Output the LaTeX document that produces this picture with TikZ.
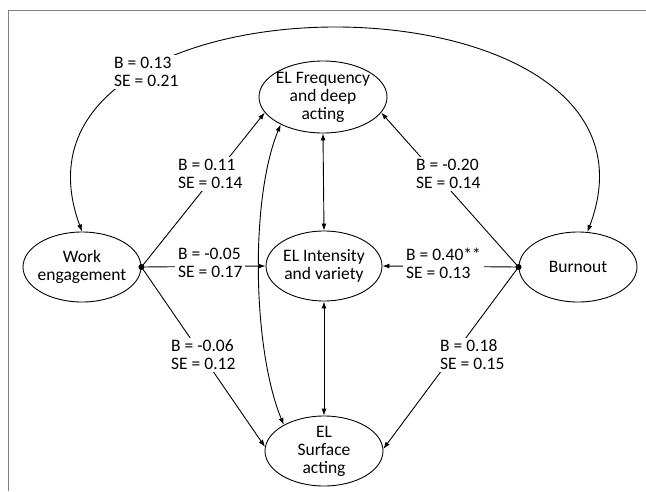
\documentclass[tikz,border=0pt]{standalone}
\usepackage{fontspec}
\setmainfont{Carlito}
\usetikzlibrary{shapes.geometric,arrows.meta}
\begin{document}
\begin{tikzpicture}[x=1pt,y=-1pt,
  txt/.style={font=\fontsize{17.5}{18}\selectfont},
  var/.style={ellipse, draw, line width=0.9pt, inner sep=0pt},
  path/.style={line width=0.9pt, -{Latex[length=7pt,width=5pt]}},
  both/.style={line width=0.9pt, {Latex[length=7pt,width=5pt]}-{Latex[length=7pt,width=5pt]}},
  coef/.style={txt, align=left, fill=white, inner xsep=3pt, inner ysep=2pt, anchor=west},
  frame/.style={draw=gray, line width=1.4pt}]
\useasboundingbox (0,0) rectangle (646,491);
\draw[frame] (8.5,491) -- (8.5,10.5) -- (646,10.5);

\node[var, minimum width=128pt, minimum height=72pt,
  label={[txt,align=center]center:EL Frequency\\and deep\\acting}] (EF) at (323,97) {};
\node[var, minimum width=118pt, minimum height=70pt,
  label={[txt,align=center]center:Work\\engagement}] (WE) at (82,267) {};
\node[var, minimum width=116pt, minimum height=70pt,
  label={[txt,align=center]center:EL Intensity\\and variety}] (EI) at (324,266) {};
\node[var, minimum width=118pt, minimum height=70pt,
  label={[txt,align=center]center:Burnout}] (BO) at (578,267) {};
\node[var, minimum width=118pt, minimum height=70pt,
  label={[txt,align=center]center:EL\\Surface\\acting}] (ES) at (324,451) {};

\draw[path] (WE.east) -- (EF.195);
\draw[path] (WE.east) -- (EI.west);
\draw[path] (WE.east) -- (ES.176);
\draw[path] (BO.west) -- (EF.345);
\draw[path] (BO.west) -- (EI.east);
\draw[path] (BO.west) -- (ES.2);
\draw[both] (EF.south) -- (EI.north);
\draw[both] (EI.south) -- (ES.north);
\draw[both] (EF.213) .. controls +(-31,75) and +(-31,-75) .. (ES.147);
\draw[both] (WE.north) .. controls +(-100,-271) and +(103,-271) .. (BO.75);
\fill (WE.east) circle (3pt);
\fill (BO.west) circle (3pt);

\node[coef] (c1) at (111,72) {B = 0.13\\SE = 0.21};
\node[coef] (c2) at (175,174) {B = 0.11\\SE = 0.14};
\node[coef] (c3) at (175,263) {B = -0.05\\SE = 0.17};
\node[coef] (c4) at (168,355) {B = -0.06\\SE = 0.12};
\node[coef] (c5) at (413,174) {B = -0.20\\SE = 0.14};
\node[coef] (c6) at (403,263) {B = 0.40**\\SE = 0.13};
\node[coef] (c7) at (437,355) {B = 0.18\\SE = 0.15};
\end{tikzpicture}
\end{document}
